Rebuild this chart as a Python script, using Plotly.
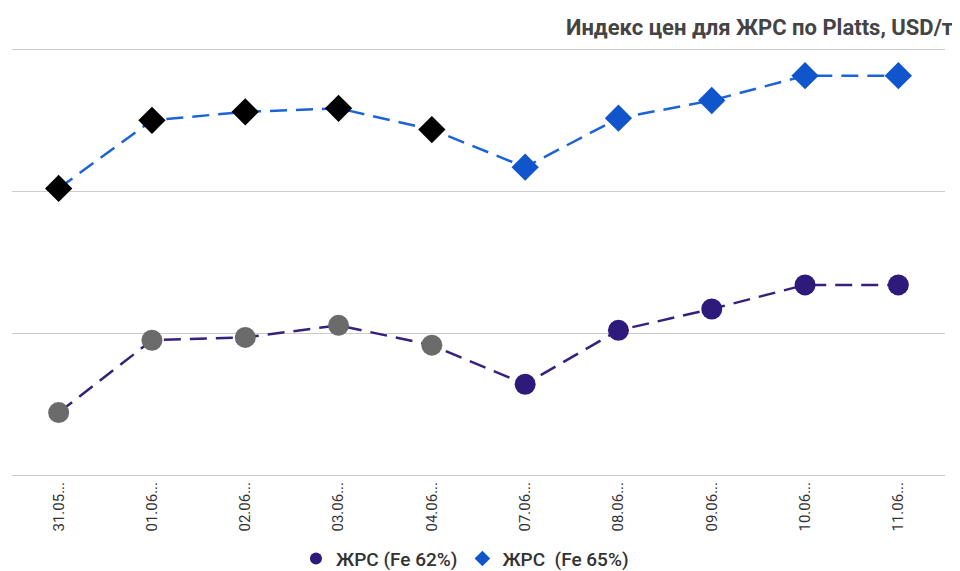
import plotly.graph_objects as go

dates = ["31.05...", "01.06...", "02.06...", "03.06...", "04.06...",
         "07.06...", "08.06...", "09.06...", "10.06...", "11.06..."]
fe62 = [188.8, 199.0, 199.4, 201.1, 198.3, 192.8, 200.4, 203.4, 206.8, 206.8]
fe65 = [220.4, 230.0, 231.2, 231.7, 228.7, 223.4, 230.3, 232.8, 236.3, 236.3]
fe62_marker_colors = ["#6b6b6b"] * 5 + ["#2e1a7a"] * 5
fe65_marker_colors = ["#000000"] * 5 + ["#1155cc"] * 5
names = ["ЖРС (Fe 62%)", "ЖРС  (Fe 65%)"]

fig = go.Figure()
fig.add_trace(go.Scatter(
    x=dates, y=fe62, name=names[0], mode="lines+markers", showlegend=False,
    line=dict(color="#35207e", width=2.5, dash="17px,9px"),
    marker=dict(symbol="circle", size=21, color=fe62_marker_colors),
))
fig.add_trace(go.Scatter(
    x=dates, y=fe65, name=names[1], mode="lines+markers", showlegend=False,
    line=dict(color="#1c64d6", width=2.5, dash="17px,9px"),
    marker=dict(symbol="diamond", size=21, color=fe65_marker_colors),
))
# legend entries (markers only)
fig.add_trace(go.Scatter(
    x=[None], y=[None], name=names[0], mode="markers",
    marker=dict(symbol="circle", size=14, color="#2e1a7a"),
))
fig.add_trace(go.Scatter(
    x=[None], y=[None], name=names[1], mode="markers",
    marker=dict(symbol="diamond", size=14, color="#1155cc"),
))

fig.update_layout(
    width=952, height=563,
    margin=dict(l=4, r=15, t=40, b=96, autoexpand=False),
    paper_bgcolor="white", plot_bgcolor="white",
    font=dict(family="Roboto", color="#333333"),
    showlegend=True,
    legend=dict(orientation="h", x=0.4855, xanchor="center",
                yref="container", y=0.022, yanchor="middle",
                font=dict(size=19, color="#333333", weight=500),
                itemsizing="constant", itemwidth=30),
    annotations=[dict(
        text="<b>Индекс цен для ЖРС по Platts, USD/т</b>",
        xref="paper", yref="paper", x=1.0107, y=1.047,
        xanchor="right", yanchor="middle", showarrow=False,
        font=dict(family="Roboto", size=22, color="#444444"))],
)
fig.update_xaxes(type="category", range=[-0.5, 9.5], tickangle=-90,
                 showgrid=False, tickfont=dict(size=15, color="#333333"),
                 showline=True, linecolor="#c8c8c8", linewidth=1,
                 ticks="", zeroline=False, automargin=False)
fig.update_yaxes(range=[180, 240.2], tickvals=[180, 200, 220, 240],
                 showticklabels=False,
                 showgrid=True, gridcolor="#cccccc", gridwidth=1,
                 zeroline=False, ticks="", automargin=False)

fig.write_html("out.html")
